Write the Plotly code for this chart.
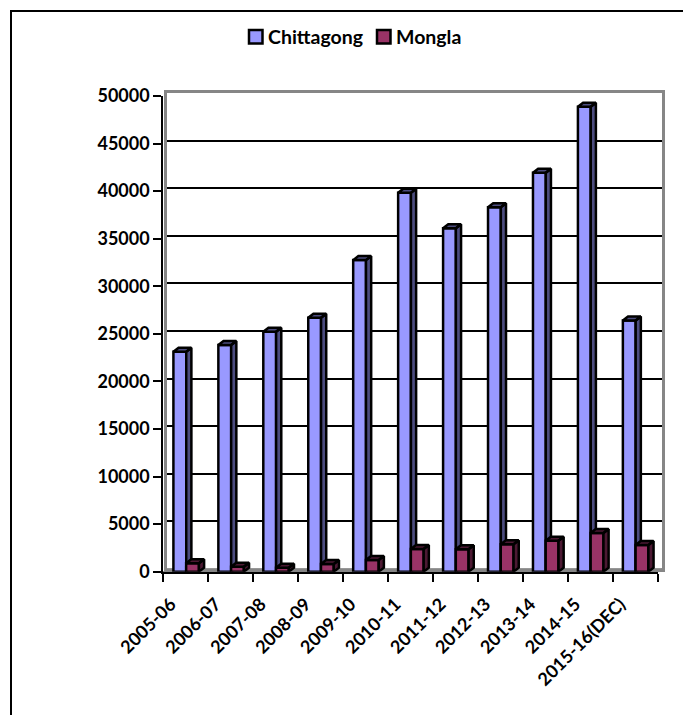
import plotly.graph_objects as go

CATEGORIES = ["2005-06", "2006-07", "2007-08", "2008-09", "2009-10", "2010-11",
              "2011-12", "2012-13", "2013-14", "2014-15", "2015-16(DEC)"]
CHITTAGONG = [23120, 23830, 25230, 26700, 32750, 39830, 36090, 38300, 41940, 48880, 26400]
MONGLA = [880, 525, 420, 800, 1230, 2390, 2350, 2880, 3260, 4065, 2800]
Y_TICKS = [0, 5000, 10000, 15000, 20000, 25000, 30000, 35000, 40000, 45000, 50000]

# page body has an 8px margin, so the figure starts at (8, 8)
PAGE_MARGIN = 8
W, H = 691 - PAGE_MARGIN, 715 - PAGE_MARGIN
FONT = "Lato"
BLUE, BLUE_DARK = "#9999FF", "#4C4C7F"
RED, RED_DARK = "#993366", "#4C1933"
BAR_W = 0.285
DEPTH_X = 0.115  # 3d depth, in category units
DEPTH_Y = 420    # 3d depth, in value units


def px_x(v):
    return (v - PAGE_MARGIN) / W


def px_y(v):
    return 1 - (v - PAGE_MARGIN) / H


def depth_faces(values, offset):
    """Outline of the side and top faces behind each front face."""
    xs, ys = [], []
    for i, v in enumerate(values):
        x0, x1 = i + offset, i + offset + BAR_W
        xs += [x1, x1 + DEPTH_X, x1 + DEPTH_X, x1, x1, None]
        ys += [0, DEPTH_Y, v + DEPTH_Y, v, 0, None]
        xs += [x0, x0 + DEPTH_X, x1 + DEPTH_X, x1, x0, None]
        ys += [v, v + DEPTH_Y, v + DEPTH_Y, v, v, None]
    return xs, ys


def add_series(fig, name, values, offset, color, dark, xa, ya):
    xs, ys = depth_faces(values, offset)
    fig.add_trace(go.Scatter(x=xs, y=ys, mode="lines", fill="toself", fillcolor=dark,
                             line=dict(color="black", width=2.5), showlegend=False,
                             hoverinfo="skip", xaxis=xa, yaxis=ya))
    fig.add_trace(go.Bar(x=list(range(len(values))), y=values, name=name, width=BAR_W,
                         offset=offset, marker=dict(color=color, line=dict(color="black", width=2.5)),
                         showlegend=False, xaxis=xa, yaxis=ya))


def legend_swatch(x0, color):
    return dict(type="rect", xref="paper", yref="paper", layer="above", fillcolor=color,
                x0=px_x(x0), x1=px_x(x0 + 13.5), y0=px_y(43.5), y1=px_y(30),
                line=dict(color="black", width=2.5))


def legend_label(x0, text):
    return dict(xref="paper", yref="paper", x=px_x(x0), y=px_y(37), xanchor="left", yanchor="middle",
                text=f"<b>{text}</b>", showarrow=False, borderpad=0,
                font=dict(family=FONT, size=19.5, color="black"))


x_range = [-0.5, len(CATEGORIES) - 0.5]
y_range = [0, Y_TICKS[-1]]
grey = "#868686"
bold = dict(family=FONT, size=18, weight="bold", color="black")

fig = go.Figure()
# the wall subplot needs a trace of its own or its axes are dropped
fig.add_trace(go.Scatter(x=x_range, y=y_range, mode="none", showlegend=False, hoverinfo="skip"))
add_series(fig, "Chittagong", CHITTAGONG, -0.275, BLUE, BLUE_DARK, "x2", "y2")
add_series(fig, "Mongla", MONGLA, 0.008, RED, RED_DARK, "x3", "y3")

fig.update_layout(
    width=W, height=H, autosize=False,
    margin=dict(l=0, r=0, t=0, b=0, autoexpand=False),
    paper_bgcolor="white", plot_bgcolor="rgba(0,0,0,0)",
    font=dict(family=FONT, size=18, color="black"),
    barmode="overlay",
    showlegend=False,
    # back wall of the 3d box carries the gridlines
    xaxis=dict(domain=[px_x(166.7), px_x(662)], range=x_range, showgrid=False, zeroline=False,
               showticklabels=False, ticks="", showline=True, mirror=True, linecolor=grey, linewidth=3),
    yaxis=dict(domain=[px_y(568.7), px_y(93.3)], range=y_range, tickmode="array", tickvals=Y_TICKS[1:-1],
               showgrid=True, gridcolor="black", gridwidth=2, zeroline=False,
               showticklabels=False, ticks="", showline=True, mirror=True, linecolor=grey, linewidth=3),
    # front axes
    xaxis2=dict(domain=[px_x(163.3), px_x(657.7)], range=x_range, anchor="y2", showgrid=False, zeroline=False,
                tickmode="array", tickvals=list(range(len(CATEGORIES))), ticktext=CATEGORIES, tickangle=-45,
                ticks="", showline=True, linecolor="black", linewidth=2,
                minor=dict(ticks="outside", tick0=-0.5, dtick=1, ticklen=8, tickwidth=2, tickcolor="black"),
                tickfont=bold, ticklabelstandoff=13, ticklabelshift=-15),
    yaxis2=dict(domain=[px_y(571.7), px_y(96)], range=y_range, anchor="x2", showgrid=False, zeroline=False,
                tickmode="array", tickvals=Y_TICKS, ticks="outside", ticklen=8, tickwidth=2, tickcolor="black",
                showline=True, linecolor="black", linewidth=2, tickformat="d", tickfont=bold),
    xaxis3=dict(overlaying="x2", range=x_range, visible=False, anchor="y3"),
    yaxis3=dict(overlaying="y2", range=y_range, visible=False, anchor="x3"),
    annotations=[legend_label(267, "Chittagong"), legend_label(395, "Mongla")],
    shapes=[
        # outer frame runs off the right and bottom of the page
        dict(type="path", xref="paper", yref="paper", layer="above",
             path=f"M {px_x(11)} {px_y(720)} L {px_x(11)} {px_y(11)} L {px_x(700)} {px_y(11)}",
             line=dict(color="black", width=2)),
        # floor
        dict(type="path", xref="paper", yref="paper", layer="below", fillcolor=grey,
             path=f"M {px_x(163.3)} {px_y(571.7)} L {px_x(166.7)} {px_y(568.7)} L {px_x(662)} {px_y(568.7)} "
                  f"L {px_x(657.7)} {px_y(571.7)} Z",
             line=dict(color=grey, width=1)),
        legend_swatch(249, BLUE),
        legend_swatch(377, RED),
    ],
)

fig.write_html("out.html")
